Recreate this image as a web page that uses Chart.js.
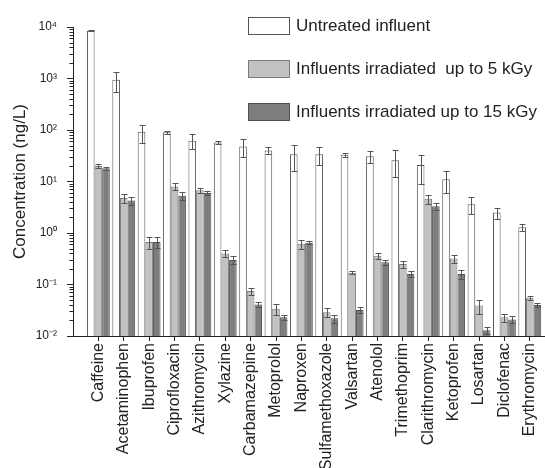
<!DOCTYPE html>
<html>
<head>
<meta charset="utf-8">
<script src="https://cdn.jsdelivr.net/npm/chart.js@4/dist/chart.umd.min.js"></script>
<style>
body { margin: 0; background: #fff; }
#wrap { position: relative; width: 545px; height: 468px; overflow: hidden; }
#legenda { position: absolute; left: 248px; top: 17px; font: 17px "Liberation Sans", Arial, sans-serif; color: #222; }
.item { display: flex; align-items: center; height: 18px; margin-bottom: 25px; white-space: pre; }
.caixa { box-sizing: border-box; width: 42px; height: 18px; border: 1px solid; margin-right: 6px; }
</style>
</head>
<body>
<div id="wrap">
  <canvas id="grafico" width="545" height="468"></canvas>
  <div id="legenda"></div>
</div>
<script>
// Compostos (eixo x)
const compostos = ['Caffeine', 'Acetaminophen', 'Ibuprofen', 'Ciprofloxacin', 'Azithromycin', 'Xylazine',
  'Carbamazepine', 'Metoprolol', 'Naproxen', 'Sulfamethoxazole', 'Valsartan', 'Atenolol',
  'Trimethoprim', 'Clarithromycin', 'Ketoprofen', 'Losartan', 'Diclofenac', 'Erythromycin'];

// Concentracoes em ng/L (escala log)
const bruto = [8500, 950, 92, 90, 62, 57, 48, 40, 34, 34, 33, 31, 26, 21, 11, 3.6, 2.5, 1.3];
const erroBruto = [300, 400, 35, 5, 20, 4, 18, 6, 18, 13, 3, 8, 14, 12, 5, 1.3, 0.6, 0.2];
const irr5 = [20, 4.8, 0.67, 8, 6.8, 0.4, 0.075, 0.034, 0.62, 0.029, 0.17, 0.36, 0.25, 4.6, 0.32, 0.039, 0.023, 0.055];
const erro5 = [1.5, 1.0, 0.18, 1.2, 0.8, 0.06, 0.012, 0.008, 0.12, 0.006, 0.01, 0.05, 0.04, 0.9, 0.06, 0.012, 0.004, 0.006];
const irr15 = [18, 4.3, 0.67, 5.3, 6.0, 0.3, 0.041, 0.023, 0.65, 0.022, 0.032, 0.27, 0.16, 3.3, 0.16, 0.013, 0.021, 0.040];
const erro15 = [1.2, 0.8, 0.15, 1.0, 0.6, 0.05, 0.005, 0.003, 0.05, 0.004, 0.004, 0.03, 0.02, 0.5, 0.03, 0.002, 0.003, 0.004];

// Eixo y
const ticksY = [0.01, 0.1, 1, 10, 100, 1000, 10000];
const rotulosY = ['10⁻²', '10⁻¹', '10⁰', '10¹', '10²', '10³', '10⁴'];

const nomesSeries = ['Untreated influent', 'Influents irradiated  up to 5 kGy', 'Influents irradiated up to 15 kGy'];

Chart.defaults.font.family = '"Liberation Sans", Arial, sans-serif';
Chart.defaults.color = '#222';

// Monta os pontos {x, y} de cada serie
function pontos(valores) {
  return valores.map((v, i) => ({ x: i + 1, y: v }));
}

// Barras de erro desenhadas por cima das barras
const barrasErro = {
  id: 'barrasErro',
  afterDatasetsDraw(chart) {
    const ctx = chart.ctx;
    const y = chart.scales.y;
    ctx.save();
    ctx.strokeStyle = '#555';
    ctx.lineWidth = 1;
    chart.data.datasets.forEach((ds, d) => {
      chart.getDatasetMeta(d).data.forEach((barra, i) => {
        const v = ds.data[i].y, e = ds.erros[i];
        const yTopo = Math.round(y.getPixelForValue(v + e)) + 0.5;
        const yBase = Math.round(y.getPixelForValue(Math.max(v - e, y.min))) + 0.5;
        const x = Math.round(barra.x) + 0.5;
        ctx.beginPath();
        ctx.moveTo(x, yTopo); ctx.lineTo(x, yBase);
        ctx.moveTo(x - 3, yTopo); ctx.lineTo(x + 3, yTopo);
        ctx.moveTo(x - 3, yBase); ctx.lineTo(x + 3, yBase);
        ctx.stroke();
      });
    });
    ctx.restore();
  }
};

// Ticks menores do eixo log (2..9 em cada decada)
const ticksMenores = {
  id: 'ticksMenores',
  afterDraw(chart) {
    const y = chart.scales.y, ctx = chart.ctx;
    const x0 = chart.chartArea.left;
    ctx.save();
    ctx.strokeStyle = '#222';
    ctx.lineWidth = 1;
    ctx.beginPath();
    ticksY.slice(0, -1).forEach(base => {
      for (let m = 2; m <= 9; m++) {
        const py = Math.round(y.getPixelForValue(base * m)) + 0.5;
        ctx.moveTo(x0 - 3.5, py); ctx.lineTo(x0, py);
      }
    });
    ctx.stroke();
    ctx.restore();
  }
};

const grafico = new Chart(document.getElementById('grafico'), {
  type: 'bar',
  data: {
    datasets: [
      { label: nomesSeries[0], data: pontos(bruto), erros: erroBruto, backgroundColor: '#ffffff', borderColor: '#555555' },
      { label: nomesSeries[1], data: pontos(irr5), erros: erro5, backgroundColor: '#c2c2c2', borderColor: '#7a7a7a' },
      { label: nomesSeries[2], data: pontos(irr15), erros: erro15, backgroundColor: '#7e7e7e', borderColor: '#505050' }
    ]
  },
  options: {
    responsive: false,
    animation: false,
    layout: { padding: { top: 27, right: 0, bottom: 0, left: 0 } },
    datasets: { bar: { borderWidth: 1, barPercentage: 1, categoryPercentage: 0.9 } },
    plugins: { legend: { display: false }, tooltip: { enabled: false } },
    scales: {
      x: {
        type: 'linear', min: 0, max: 18.6, offset: false,
        afterBuildTicks: s => { s.ticks = compostos.map((c, i) => ({ value: i + 1 })); },
        afterFit: s => { s.height = 132; s.paddingLeft = 0; s.paddingRight = 0; },
        ticks: { autoSkip: false, maxRotation: 90, minRotation: 90, padding: 2, font: { size: 16 },
          callback: v => compostos[v - 1] },
        grid: { drawOnChartArea: false, offset: false, tickLength: 5, color: '#222' },
        border: { color: '#222' }
      },
      y: {
        type: 'logarithmic', min: 0.01, max: 10000,
        afterBuildTicks: s => { s.ticks = ticksY.map(v => ({ value: v, major: true })); },
        afterFit: s => { s.width = 73; },
        ticks: { autoSkip: false, padding: 10, font: { size: 12 },
          callback: v => rotulosY[ticksY.indexOf(v)] },
        grid: { drawOnChartArea: false, tickLength: 6, color: '#222' },
        border: { color: '#222' },
        title: { display: true, text: 'Concentration (ng/L)', font: { size: 17 }, padding: { top: 10 } }
      }
    }
  },
  plugins: [barrasErro, ticksMenores]
});

// Legenda em HTML dentro da area do grafico
const legenda = document.getElementById('legenda');
grafico.data.datasets.forEach(ds => {
  const item = document.createElement('div');
  item.className = 'item';
  item.innerHTML = `<span class="caixa" style="background:${ds.backgroundColor};border-color:${ds.borderColor}"></span>${ds.label}`;
  legenda.appendChild(item);
});
</script>
</body>
</html>
